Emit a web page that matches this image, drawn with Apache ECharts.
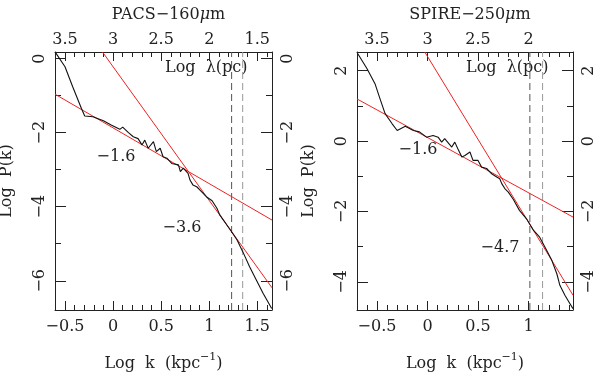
<!DOCTYPE html>
<html>
<head>
<meta charset="utf-8">
<script src="https://cdn.jsdelivr.net/npm/echarts@6/dist/echarts.min.js"></script>
<style>
html, body { margin: 0; padding: 0; background: #fff; }
#chart { width: 600px; height: 374px; }
</style>
</head>
<body>
<div id="chart"></div>
<script>
// PACS 160um spectrum
const pacsLogK = [-0.60, -0.50, -0.42, -0.33, -0.295, -0.21, -0.10, -0.02, 0.07, 0.10, 0.16, 0.21, 0.26, 0.30, 0.33, 0.365, 0.42, 0.45, 0.49, 0.52, 0.56, 0.61, 0.68, 0.70, 0.73, 0.78, 0.80, 0.83, 0.87, 0.92, 0.97, 1.03, 1.08, 1.11, 1.22, 1.29, 1.35, 1.42, 1.49, 1.56, 1.65];
const pacsLogP = [0.17, -0.22, -0.76, -1.34, -1.55, -1.57, -1.68, -1.79, -1.91, -1.85, -2.00, -2.11, -2.16, -2.33, -2.20, -2.42, -2.24, -2.51, -2.42, -2.65, -2.69, -2.83, -2.87, -3.05, -2.96, -3.10, -3.28, -3.41, -3.46, -3.59, -3.73, -3.84, -4.04, -4.22, -4.63, -4.90, -5.22, -5.62, -5.98, -6.34, -6.75];
const pacsFitShallowK = [-0.604, 1.653];
const pacsFitShallowP = [-0.96, -4.36];
const pacsFitSteepK = [-0.11, 1.653];
const pacsFitSteepP = [0.18, -6.19];
const pacsDashK = [1.233, 1.348];
const pacsPTicks = [0, -2, -4, -6];

// SPIRE 250um spectrum
const spireLogK = [-0.69, -0.60, -0.52, -0.47, -0.42, -0.35, -0.30, -0.22, -0.14, -0.08, -0.01, 0.055, 0.105, 0.14, 0.17, 0.24, 0.27, 0.30, 0.34, 0.37, 0.42, 0.45, 0.50, 0.535, 0.585, 0.635, 0.685, 0.715, 0.735, 0.765, 0.80, 0.85, 0.91, 0.98, 1.05, 1.11, 1.18, 1.23, 1.28, 1.31, 1.36, 1.41, 1.44];
const spireLogP = [2.48, 2.06, 1.63, 1.20, 0.78, 0.49, 0.30, 0.42, 0.30, 0.26, 0.11, 0.16, 0.11, -0.03, 0.07, -0.17, -0.03, -0.22, -0.45, -0.41, -0.31, -0.55, -0.55, -0.74, -0.78, -0.93, -1.02, -1.07, -1.21, -1.35, -1.45, -1.66, -1.97, -2.21, -2.54, -2.73, -3.11, -3.39, -3.77, -4.10, -4.38, -4.62, -4.76];
const spireFitShallowK = [-0.698, 1.44];
const spireFitShallowP = [1.196, -2.16];
const spireFitSteepK = [-0.027, 1.44];
const spireFitSteepP = [2.53, -4.38];
const spireDashK = [1.013, 1.139];
const spirePTicks = [2, 0, -2, -4];

const FONT = '"DejaVu Serif", "Liberation Serif", serif';
const INK = '#222';
const RED = '#ee2222';

const zip = (a, b) => a.map((v, i) => [v, b[i]]);
const minus = v => String(v).replace('-', '\u2212');

const panels = [
	{
		left: 55, width: 217, kMin: -0.604, kMax: 1.653, pMin: -6.79, pMax: 0.18,
		title: '{a|PACS\u2212160}{mu|\u03bc}{a|m}',
		k: pacsLogK, p: pacsLogP, pTicks: pacsPTicks,
		fits: [[pacsFitShallowK, pacsFitShallowP], [pacsFitSteepK, pacsFitSteepP]],
		dash: pacsDashK,
		notes: [['\u22121.6', 116, 157], ['\u22123.6', 182, 228]]
	},
	{
		left: 357, width: 216, kMin: -0.698, kMax: 1.44, pMin: -4.8, pMax: 2.53,
		title: '{a|SPIRE\u2212250}{mu|\u03bc}{a|m}',
		k: spireLogK, p: spireLogP, pTicks: spirePTicks,
		fits: [[spireFitShallowK, spireFitShallowP], [spireFitSteepK, spireFitSteepP]],
		dash: spireDashK,
		notes: [['\u22121.6', 418, 150], ['\u22124.7', 500, 248]]
	}
];

const grid = [], xAxis = [], yAxis = [], series = [], title = [], graphic = [];
const lineStyle = {color: INK, width: 1};
const label = {fontFamily: FONT, fontSize: 16, color: INK, formatter: minus, showMinLabel: false, showMaxLabel: false};

panels.forEach((pn, i) => {
	grid.push({left: pn.left, top: 52, width: pn.width, height: 258, containLabel: false, outerBoundsMode: 'none'});
	const xi = xAxis.length, yi = yAxis.length;
	pn.yi = yi;
	// bottom: log k
	xAxis.push({
		type: 'value', gridIndex: i, position: 'bottom', min: pn.kMin, max: pn.kMax, splitNumber: 5,
		axisLine: {onZero: false, lineStyle},
		axisTick: {show: true, inside: true, length: 9, lineStyle},
		minorTick: {show: true, splitNumber: 5, length: 5, lineStyle},
		axisLabel: Object.assign({margin: 9}, label),
		splitLine: {show: false}
	});
	// top: log lambda in pc, lambda = 1/k
	xAxis.push({
		type: 'value', gridIndex: i, position: 'top', inverse: true, min: 3 - pn.kMax, max: 3 - pn.kMin, splitNumber: 5,
		axisLine: {onZero: false, lineStyle},
		axisTick: {show: true, inside: true, length: 9, lineStyle},
		minorTick: {show: true, splitNumber: 5, length: 5, lineStyle},
		axisLabel: Object.assign({margin: 4}, label),
		splitLine: {show: false}
	});
	['left', 'right'].forEach(side => {
		const ax = {
			type: 'value', gridIndex: i, position: side, min: pn.pMin, max: pn.pMax, splitNumber: 4,
			axisLine: {show: true, onZero: false, lineStyle},
			axisTick: {show: true, inside: true, length: 11, lineStyle},
			minorTick: {show: true, splitNumber: 2, length: 6, lineStyle},
			axisLabel: {show: false},
			splitLine: {show: false}
		};
		if (side === 'left') {
			Object.assign(ax, {name: 'Log  P(k)', nameLocation: 'middle', nameGap: 40,
				nameTextStyle: {fontFamily: FONT, fontSize: 16, color: INK}});
		}
		yAxis.push(ax);
	});

	pn.dash.forEach((k, j) => {
		series.push({
			type: 'line', xAxisIndex: xi, yAxisIndex: yi, symbol: 'none',
			data: [[k, pn.pMin], [k, pn.pMax]],
			lineStyle: {color: j === 0 ? '#555' : '#999', width: 1, type: [7, 4]}
		});
	});
	pn.fits.forEach(f => {
		series.push({
			type: 'line', xAxisIndex: xi, yAxisIndex: yi, symbol: 'none',
			data: zip(f[0], f[1]), lineStyle: {color: RED, width: 1}
		});
	});
	series.push({
		type: 'line', xAxisIndex: xi, yAxisIndex: yi, symbol: 'none',
		data: zip(pn.k, pn.p), lineStyle: {color: '#111', width: 1.1}
	});

	title.push({
		text: pn.title, left: pn.left + pn.width / 2, top: 2, textAlign: 'center',
		textStyle: {
			fontWeight: 'normal',
			rich: {
				a: {fontFamily: FONT, fontSize: 16, color: INK, fontWeight: 'normal'},
				mu: {fontFamily: FONT, fontSize: 16, color: INK, fontWeight: 'normal', fontStyle: 'italic'}
			}
		}
	});
	// bottom axis title with superscript
	graphic.push({
		type: 'text', x: pn.left + pn.width / 2, y: 362,
		style: {
			text: '{a|Log  k  (kpc}{s|\u22121}{a|)}', align: 'center', verticalAlign: 'middle',
			rich: {
				a: {fontFamily: FONT, fontSize: 16, fill: INK, lineHeight: 20, verticalAlign: 'bottom'},
				s: {fontFamily: FONT, fontSize: 11, fill: INK, verticalAlign: 'top'}
			}
		}
	});
	graphic.push({
		type: 'text', left: pn.left + pn.width - 107, top: 60,
		style: {text: 'Log  \u03bb(pc)', fontFamily: FONT, fontSize: 16, fill: INK}
	});
	pn.notes.forEach(n => {
		graphic.push({
			type: 'text', x: n[1], y: n[2],
			style: {text: n[0], fontFamily: FONT, fontSize: 16, fill: INK, align: 'center', verticalAlign: 'middle'}
		});
	});
});

const chart = echarts.init(document.getElementById('chart'));
chart.setOption({
	animation: false,
	title, grid, xAxis, yAxis, series, graphic
});

// y tick labels, written parallel to the axis, placed through the y scale
panels.forEach(pn => {
	pn.pTicks.forEach(v => {
		const y = chart.convertToPixel({yAxisIndex: pn.yi}, v);
		[pn.left - 15, pn.left + pn.width + 16].forEach(x => {
			graphic.push({
				type: 'text', x: x, y: y, rotation: Math.PI / 2,
				style: {text: minus(v), fontFamily: FONT, fontSize: 16, fill: INK, align: 'center', verticalAlign: 'middle'}
			});
		});
	});
});
chart.setOption({graphic});
window.addEventListener('resize', () => chart.resize());
</script>
</body>
</html>
